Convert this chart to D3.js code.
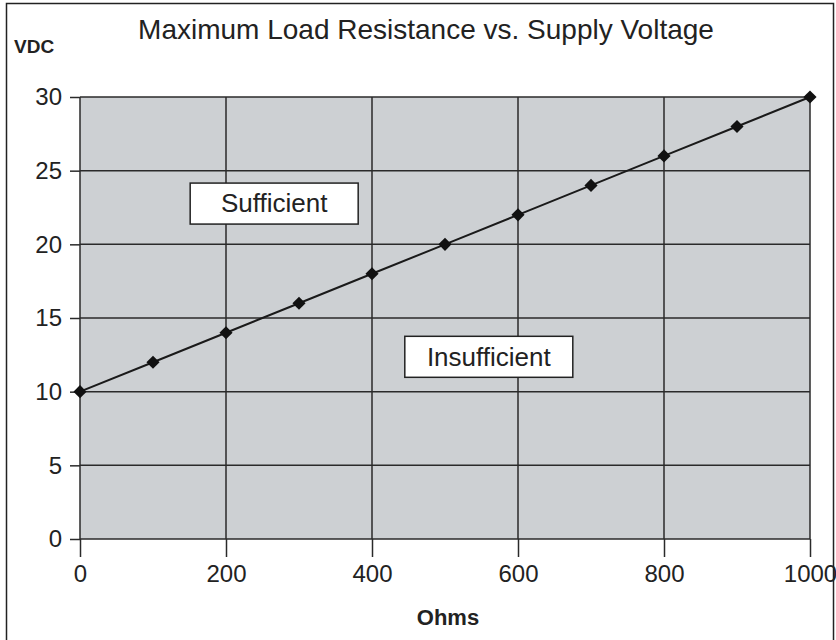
<!DOCTYPE html>
<html>
<head>
<meta charset="utf-8">
<script src="https://cdn.jsdelivr.net/npm/d3@7"></script>
<style>
  body { margin: 0; background: #fff; }
  text { font-family: "Liberation Sans", Arial, sans-serif; fill: #222; }
</style>
</head>
<body>
<script>
var width = 836,
    height = 640;

// data
var ohms = [0, 100, 200, 300, 400, 500, 600, 700, 800, 900, 1000];
var vdc = [10, 12, 14, 16, 18, 20, 22, 24, 26, 28, 30];
var xTicks = [0, 200, 400, 600, 800, 1000];
var yTicks = [0, 5, 10, 15, 20, 25, 30];
var regions = [
  { label: "Sufficient", ohm: 266, volt: 22.8 },
  { label: "Insufficient", ohm: 560, volt: 12.4 }
];

var margin = { top: 97, right: 26, bottom: 101, left: 80 };
var w = width - margin.left - margin.right,
    h = height - margin.top - margin.bottom;

var svg = d3.select("body").append("svg")
    .attr("width", width)
    .attr("height", height);

// outer frame
svg.append("rect")
    .attr("x", 6.5).attr("y", 3.5)
    .attr("width", 827).attr("height", 640)
    .attr("fill", "none")
    .attr("stroke", "#222")
    .attr("stroke-width", 1.5);

var x = d3.scaleLinear().domain([0, 1000]).range([0, w]);
var y = d3.scaleLinear().domain([0, 30]).range([h, 0]);

var g = svg.append("g")
    .attr("transform", "translate(" + margin.left + "," + margin.top + ")");

g.append("rect")
    .attr("width", w).attr("height", h)
    .attr("fill", "#cdd0d3");

// grid
g.selectAll(".vgrid")
    .data(xTicks)
  .enter().append("line")
    .attr("x1", function(d) { return x(d); })
    .attr("x2", function(d) { return x(d); })
    .attr("y1", 0).attr("y2", h)
    .attr("stroke", "#2a2a2a").attr("stroke-width", 1.5);

g.selectAll(".hgrid")
    .data(yTicks)
  .enter().append("line")
    .attr("x1", 0).attr("x2", w)
    .attr("y1", function(d) { return y(d); })
    .attr("y2", function(d) { return y(d); })
    .attr("stroke", "#2a2a2a").attr("stroke-width", 1.5);

// axes
var xAxis = g.append("g")
    .attr("transform", "translate(0," + h + ")")
    .call(d3.axisBottom(x).tickValues(xTicks).tickFormat(d3.format("d")).tickSize(18).tickPadding(8));
var yAxis = g.append("g")
    .call(d3.axisLeft(y).tickValues(yTicks).tickSize(10).tickPadding(8));

[xAxis, yAxis].forEach(function(a) {
  a.select(".domain").remove();
  a.selectAll("line").attr("stroke", "#2a2a2a").attr("stroke-width", 1.5);
  a.selectAll("text")
      .style("font-size", "24px")
      .style("font-family", "'Liberation Sans', Arial, sans-serif")
      .attr("fill", "#222");
});

// series
var line = d3.line()
    .x(function(d, i) { return x(ohms[i]); })
    .y(function(d) { return y(d); });

g.append("path")
    .datum(vdc)
    .attr("d", line)
    .attr("fill", "none")
    .attr("stroke", "#1a1a1a")
    .attr("stroke-width", 2);

g.selectAll(".pt")
    .data(vdc)
  .enter().append("path")
    .attr("d", d3.symbol().type(d3.symbolDiamond2).size(110))
    .attr("transform", function(d, i) { return "translate(" + x(ohms[i]) + "," + y(d) + ")"; })
    .attr("fill", "#111");

// region labels
var lab = g.selectAll(".lab")
    .data(regions)
  .enter().append("g")
    .attr("transform", function(d) { return "translate(" + x(d.ohm) + "," + y(d.volt) + ")"; });

lab.append("rect")
    .attr("x", -84).attr("y", -20)
    .attr("width", 168).attr("height", 41)
    .attr("fill", "#fff")
    .attr("stroke", "#222")
    .attr("stroke-width", 1.5);

lab.append("text")
    .attr("text-anchor", "middle")
    .attr("dy", "0.36em")
    .style("font-size", "26px")
    .text(function(d) { return d.label; });

// titles
svg.append("text")
    .attr("x", 426).attr("y", 39)
    .attr("text-anchor", "middle")
    .style("font-size", "28px")
    .text("Maximum Load Resistance vs. Supply Voltage");

svg.append("text")
    .attr("x", 14).attr("y", 53)
    .style("font-size", "19px")
    .style("font-weight", "bold")
    .text("VDC");

svg.append("text")
    .attr("x", 448).attr("y", 625)
    .attr("text-anchor", "middle")
    .style("font-size", "22px")
    .style("font-weight", "bold")
    .text("Ohms");
</script>
</body>
</html>
